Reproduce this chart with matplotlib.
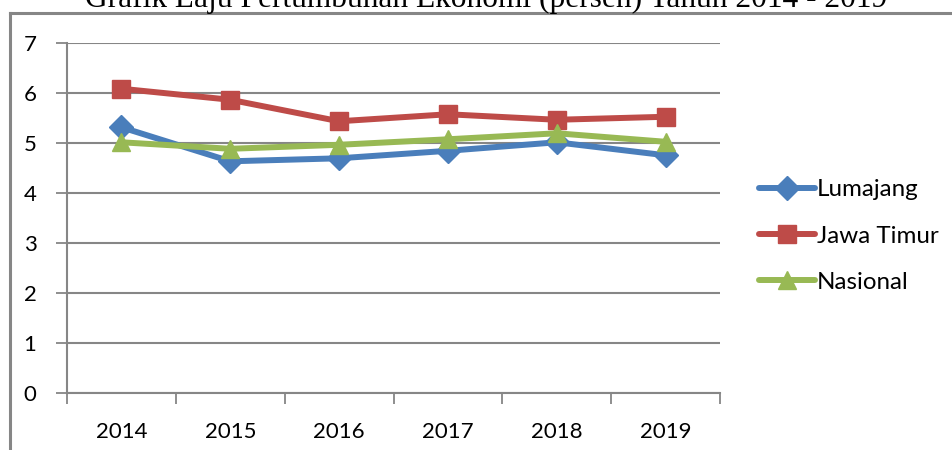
import matplotlib
matplotlib.use("Agg")
import matplotlib.pyplot as plt
from matplotlib.lines import Line2D

years = ["2014", "2015", "2016", "2017", "2018", "2019"]
lumajang = [5.31, 4.63, 4.69, 4.84, 5.01, 4.75]
jawa_timur = [6.08, 5.86, 5.43, 5.57, 5.46, 5.52]
nasional = [5.01, 4.88, 4.96, 5.07, 5.19, 5.02]
series_names = ["Lumajang", "Jawa Timur", "Nasional"]
title = "Grafik Laju Pertumbuhan Ekonomi (persen) Tahun 2014 - 2019"

W, H = 952, 450
fig = plt.figure(figsize=(W / 100, H / 100), dpi=100)
fig.patch.set_facecolor("white")

def fx(px):
    return px / W

def fy(py):
    return 1 - py / H

gray = "#868686"
# outer chart frame (top & left visible)
fig.add_artist(Line2D([fx(10), fx(10)], [fy(13), fy(460)], color=gray, lw=2.2,
                      transform=fig.transFigure))
fig.add_artist(Line2D([fx(10), fx(960)], [fy(13), fy(13)], color=gray, lw=2.2,
                      transform=fig.transFigure))

# title (clipped at top, as in the reference)
t = fig.text(fx(486), fy(7), title, ha="center", va="baseline",
             family="Liberation Serif", fontsize=20, color="black")
fig.canvas.draw()
w = t.get_window_extent().width
t.set_fontsize(20 * 802 / w)

ax = fig.add_axes([fx(67), fy(393), fx(720) - fx(67), fy(42.7) - fy(393)])
x = list(range(len(years)))
colors = ["#4A7EBB", "#BE4B48", "#98B954"]
markers = ["D", "s", "^"]
msizes = [12, 13, 13]
for vals, name, c, m, ms in zip([lumajang, jawa_timur, nasional], series_names, colors, markers, msizes):
    ax.plot(x, vals, color=c, lw=4.3, marker=m, markersize=ms, label=name,
            solid_capstyle="round", solid_joinstyle="round", clip_on=False)

ax.set_xlim(-0.5, len(years) - 0.5)
ax.set_ylim(0, 7)
ax.set_yticks(range(0, 8))
ax.set_xticks([i - 0.5 for i in range(len(years) + 1)])
ax.set_xticklabels([])
ax.set_xticks(x, minor=True)
ax.set_xticklabels(years, minor=True)
ax.tick_params(axis="x", which="minor", length=0, pad=21)
ax.tick_params(axis="x", which="major", direction="out", length=8, width=1.3, color=gray)
ax.tick_params(axis="y", direction="out", length=8, width=1.3, color=gray, pad=14)
for lab in ax.get_xticklabels(minor=True) + ax.get_yticklabels():
    lab.set_family("Lato")
    lab.set_fontsize(16)
ax.grid(axis="y", color=gray, lw=1.5)
ax.set_axisbelow(True)
for s in ["top", "right"]:
    ax.spines[s].set_visible(False)
for s in ["left", "bottom"]:
    ax.spines[s].set_color(gray)
    ax.spines[s].set_linewidth(1.5)

leg = fig.legend(loc="center left", bbox_to_anchor=(fx(759), fy(236)),
                 frameon=False, prop={"family": "Lato", "size": 17.4},
                 handlelength=2.3, handletextpad=0.1, labelspacing=1.05,
                 borderaxespad=0, borderpad=0)

fig.savefig("out.png", dpi=100, facecolor="white")
